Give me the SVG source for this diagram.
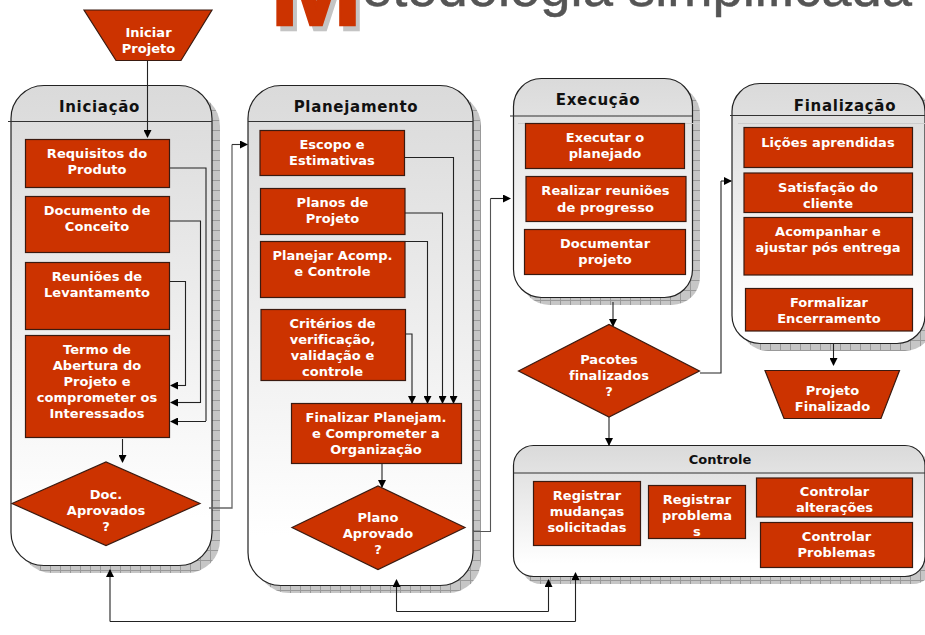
<svg xmlns="http://www.w3.org/2000/svg" width="925" height="635" viewBox="0 0 925 635">
<style>
text{font-family:"DejaVu Sans",Verdana,sans-serif;font-weight:700;text-anchor:middle}
.b text{fill:#fff;font-size:13px;letter-spacing:.05px}
.b rect,.b polygon{fill:#cc3300;stroke:#3a1a10;stroke-width:1.2}
.h{fill:#111;font-size:15px;letter-spacing:.7px}
.p{fill:url(#g);stroke:#222;stroke-width:1.2}
.s{fill:url(#hatch)}
.c path{fill:none;stroke:#222;stroke-width:1.1}
.hl{stroke:#333;stroke-width:1.1}
.f{stroke:#ccc;stroke-width:1}
.t{font-family:"Liberation Sans",Arial,sans-serif}
</style>
<defs>
<linearGradient id="g" x1="0" y1="0" x2="0" y2="1"><stop offset="0" stop-color="#dadada"/><stop offset=".9" stop-color="#ffffff"/></linearGradient>
<pattern id="hatch" width="10" height="10" patternUnits="userSpaceOnUse"><rect width="10" height="10" fill="#c6c6c6"/><path d="M0 .5H10M.5 0V10" stroke="#999" stroke-width="1"/></pattern>
<marker id="a" markerWidth="8" markerHeight="8" refX="7" refY="4" orient="auto" markerUnits="userSpaceOnUse"><path d="M0 0L8 4L0 8Z" fill="#000"/></marker>
</defs>
<rect width="925" height="635" fill="#fff"/>
<g id="title">
<text class="t" x="320" y="30" style="font-size:110px;fill:#c4c4c4;stroke:#c4c4c4;stroke-width:2.500">M</text>
<text class="t" x="316" y="25" style="font-size:110px;fill:#cc3300;stroke:#cc3300;stroke-width:2.500">M</text>
<text class="t" x="637" y="6" textLength="550" lengthAdjust="spacingAndGlyphs" style="font-size:54px;font-weight:400;fill:#555;stroke:#555;stroke-width:.5">etodologia simplificada</text>
</g>
<g id="panel-iniciacao">
<rect class="s" x="19" y="93" width="201" height="480" rx="33"/>
<rect class="p" x="11" y="85.500" width="201" height="480" rx="33"/>
<path class="hl" d="M8 121.500H212"/>
<text class="h" x="99.500" y="112">Iniciação</text>
</g>
<g id="panel-planejamento">
<rect class="s" x="256" y="93" width="225" height="500" rx="33"/>
<rect class="p" x="248" y="85.500" width="225" height="500" rx="33"/>
<path class="hl" d="M248 121.500H473"/>
<text class="h" x="356" y="112">Planejamento</text>
</g>
<g id="panel-execucao">
<rect class="s" x="521" y="86" width="179" height="219" rx="28"/>
<rect class="p" x="513.500" y="78.500" width="179" height="219" rx="28"/>
<path class="hl" d="M510 116H692"/>
<path class="f" d="M518 123.500H700"/>
<text class="h" x="598" y="105">Execução</text>
</g>
<g id="panel-finalizacao">
<rect class="s" x="740" y="91" width="193" height="260" rx="28"/>
<rect class="p" x="732" y="83.500" width="193" height="260" rx="28"/>
<path class="hl" d="M730 115.500H925"/>
<path class="f" d="M738 123.500H925"/>
<text class="h" x="845" y="111">Finalização</text>
</g>
<g id="panel-controle">
<rect class="s" x="521" y="453" width="412" height="131" rx="20"/>
<rect class="p" x="513.500" y="445.500" width="411.500" height="131" rx="20"/>
<path class="hl" d="M513.500 473H925"/>
<text class="h" x="720" y="464" style="font-size:13px;letter-spacing:0">Controle</text>
</g>
<g id="connectors" class="c">
<path marker-end="url(#a)" d="M147.500 61V137"/>
<path d="M170 168H206V421"/>
<path d="M170 221H200.500V403"/>
<path d="M170 281.500H185.500V386"/>
<path marker-end="url(#a)" d="M206 421.500H171"/>
<path marker-end="url(#a)" d="M200.500 402.500H171"/>
<path marker-end="url(#a)" d="M185.500 385.500H171"/>
<path marker-end="url(#a)" d="M122.500 439V462"/>
<path style="stroke:#666;stroke-width:1.300" d="M209 508H232V144.500"/>
<path marker-end="url(#a)" style="stroke:#333" d="M232 144.500H247"/>
<path marker-end="url(#a)" d="M405 157.500H453.500V403"/>
<path marker-end="url(#a)" d="M405 213H442.500V403"/>
<path marker-end="url(#a)" d="M405 241.500H427.500V403"/>
<path marker-end="url(#a)" d="M406 334H412V403"/>
<path marker-end="url(#a)" d="M382 464V487"/>
<path style="stroke:#555" d="M473 531.500H490.500V198.500"/>
<path marker-end="url(#a)" d="M490.500 198.500H510"/>
<path marker-end="url(#a)" d="M613 302V326"/>
<path marker-end="url(#a)" d="M609 417V445"/>
<path d="M700 373H721V181"/>
<path marker-end="url(#a)" d="M721 181H731"/>
<path marker-end="url(#a)" d="M833.500 343V365"/>
<path marker-end="url(#a)" d="M110 621.500V570"/>
<path d="M110 621.500H575.500"/>
<path marker-end="url(#a)" d="M575.500 621.500V573"/>
<path marker-end="url(#a)" d="M396.500 611.500V580"/>
<path d="M396.500 611.500H548.500"/>
<path marker-end="url(#a)" d="M548.500 611.500V580"/>
</g>
<g id="iniciar" class="b"><polygon points="84,10 212,10 181,60.500 116,60.500"/><text x="148.500" y="37">Iniciar</text><text x="148.500" y="53">Projeto</text></g>
<g id="requisitos" class="b"><rect x="25.500" y="139.500" width="144" height="48"/><text x="97" y="158">Requisitos do</text><text x="97" y="174">Produto</text></g>
<g id="documento" class="b"><rect x="25.500" y="196.500" width="144" height="56"/><text x="97" y="215">Documento de</text><text x="97" y="231">Conceito</text></g>
<g id="reunioes" class="b"><rect x="25.500" y="262.500" width="144" height="67"/><text x="97" y="281">Reuniões de</text><text x="97" y="297">Levantamento</text></g>
<g id="termo" class="b"><rect x="25.500" y="335.500" width="144" height="102"/><text x="97" y="354">Termo de</text><text x="97" y="370">Abertura do</text><text x="97" y="386">Projeto e</text><text x="97" y="402">comprometer os</text><text x="97" y="418">Interessados</text></g>
<g id="doc" class="b"><polygon points="12,503.500 106,462 200,503.500 106,545.500"/><text x="106" y="499">Doc.</text><text x="106" y="515">Aprovados</text><text x="106" y="531">?</text></g>
<g id="escopo" class="b"><rect x="260" y="130.500" width="144.500" height="45"/><text x="332" y="149">Escopo e</text><text x="332" y="165">Estimativas</text></g>
<g id="planos" class="b"><rect x="260.500" y="188.500" width="144.500" height="46"/><text x="332.500" y="207">Planos de</text><text x="332.500" y="223">Projeto</text></g>
<g id="planejar" class="b"><rect x="260.500" y="241.500" width="144.500" height="56"/><text x="332.500" y="260">Planejar Acomp.</text><text x="332.500" y="276">e Controle</text></g>
<g id="criterios" class="b"><rect x="261" y="309.500" width="144.500" height="71"/><text x="332.500" y="328">Critérios de</text><text x="332.500" y="344">verificação,</text><text x="332.500" y="360">validação e</text><text x="332.500" y="376">controle</text></g>
<g id="finalizar" class="b"><rect x="291.500" y="403.500" width="170" height="60"/><text x="376" y="422">Finalizar Planejam.</text><text x="376" y="438">e Comprometer a</text><text x="376" y="454">Organização</text></g>
<g id="plano" class="b"><polygon points="292,527.500 378,486 465,527.500 378,569.500"/><text x="378" y="522">Plano</text><text x="378" y="538">Aprovado</text><text x="378" y="554">?</text></g>
<g id="executar" class="b"><rect x="525.500" y="123.500" width="159" height="45"/><text x="605" y="142">Executar o</text><text x="605" y="158">planejado</text></g>
<g id="realizar" class="b"><rect x="526" y="176.500" width="160" height="45"/><text x="605.500" y="195">Realizar reuniões</text><text x="605.500" y="212">de progresso</text></g>
<g id="documentar" class="b"><rect x="524.500" y="229.500" width="161" height="45"/><text x="605" y="248">Documentar</text><text x="605" y="264">projeto</text></g>
<g id="pacotes" class="b"><polygon points="518.500,371 609,324.500 699.500,371 609,417"/><text x="609" y="364">Pacotes</text><text x="609" y="380">finalizados</text><text x="609" y="396">?</text></g>
<g id="licoes" class="b"><rect x="744" y="127.500" width="168.500" height="40"/><text x="828" y="147">Lições aprendidas</text></g>
<g id="satisfacao" class="b"><rect x="744" y="173" width="168.500" height="39.500"/><text x="828" y="192">Satisfação do</text><text x="828" y="208">cliente</text></g>
<g id="acompanhar" class="b"><rect x="744" y="217.500" width="168.500" height="57.500"/><text x="828" y="236">Acompanhar e</text><text x="828" y="252">ajustar pós entrega</text></g>
<g id="formalizar" class="b"><rect x="745.500" y="288.500" width="167" height="42.500"/><text x="829" y="307">Formalizar</text><text x="829" y="323">Encerramento</text></g>
<g id="finalizado" class="b"><polygon points="765,370.500 899.500,370.500 881,418.500 784,418.500"/><text x="832.500" y="395">Projeto</text><text x="832.500" y="411">Finalizado</text></g>
<g id="registrar-m" class="b"><rect x="533.500" y="481.500" width="107" height="64"/><text x="587" y="500">Registrar</text><text x="587" y="516">mudanças</text><text x="587" y="532">solicitadas</text></g>
<g id="registrar-p" class="b"><rect x="648.500" y="485.500" width="97" height="53"/><text x="697" y="504">Registrar</text><text x="697" y="520">problema</text><text x="697" y="536">s</text></g>
<g id="controlar-a" class="b"><rect x="756.500" y="478" width="156" height="39"/><text x="834.500" y="496">Controlar</text><text x="834.500" y="512">alterações</text></g>
<g id="controlar-p" class="b"><rect x="760.500" y="522.500" width="152" height="45"/><text x="836.500" y="541">Controlar</text><text x="836.500" y="557">Problemas</text></g>
</svg>
